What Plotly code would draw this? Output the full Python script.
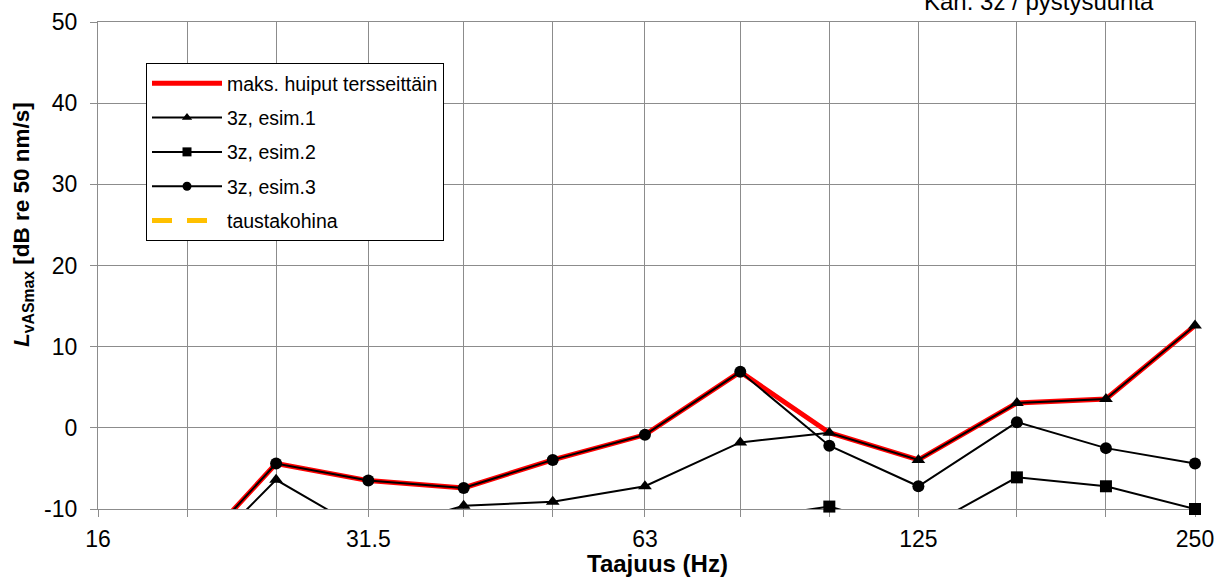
import numpy as np
import plotly.graph_objects as go

# third-octave band centre frequencies (Hz)
freqs = [16, 20, 25, 31.5, 40, 50, 63, 80, 100, 125, 160, 200, 250]
tick_labels = ["16", "", "", "31.5", "", "", "63", "", "", "125", "", "", "250"]
y_ticks = [-10, 0, 10, 20, 30, 40, 50]
y_tick_labels = ["-10", "0", "10", "20", "30", "40", "50"]

# series values (dB re 50 nm/s)
maks = [-20.0, -16.3, -4.4, -6.5, -7.4, -3.95, -0.86, 6.9, -0.6, -3.95, 3.05, 3.55, 12.6]
esim1 = [-21.0, -17.5, -6.4, -13.0, -9.6, -9.1, -7.2, -1.8, -0.6, -3.95, 3.05, 3.55, 12.6]
esim2 = [-25.0, -23.0, -21.0, -19.0, -17.0, -15.0, -13.0, -11.3, -9.7, -12.8, -6.1, -7.2, -10.0]
esim3 = [-20.0, -16.3, -4.4, -6.5, -7.4, -3.95, -0.86, 6.9, -2.2, -7.2, 0.7, -2.5, -4.4]
tausta = [-22.0, -24.0, -25.0, -26.0, -27.0, -27.0, -28.0, -28.0, -29.0, -29.0, -30.0, -30.0, -31.0]

names = ["maks. huiput tersseittäin", "3z, esim.1", "3z, esim.2", "3z, esim.3", "taustakohina"]

YMIN, YMAX = -10, 50
FONT = "Liberation Sans, Arial, sans-serif"
GRID = "#8c8c8c"

fig = go.Figure()

series = [
    (names[0], maks, dict(color="#ff0000", width=5), None),
    (names[1], esim1, dict(color="black", width=2), "triangle-up"),
    (names[2], esim2, dict(color="black", width=2), "square"),
    (names[3], esim3, dict(color="black", width=2), "circle"),
    (names[4], tausta, dict(color="#ffc000", width=5, dash="20px,15px"), None),
]

fx = np.array(freqs, dtype=float)
for i, (name, vals, line, sym) in enumerate(series):
    v = np.array(vals, dtype=float)
    # clipped line
    fig.add_trace(go.Scatter(x=fx, y=v, mode="lines", line=line,
                             showlegend=False, hoverinfo="skip"))
    # markers (not clipped, only in-range points)
    if sym is not None:
        m = v >= YMIN
        fig.add_trace(go.Scatter(x=fx[m], y=v[m], mode="markers",
                                 marker=dict(symbol=sym, size=12, color="black"),
                                 cliponaxis=False, showlegend=False))
    # legend entry
    fig.add_trace(go.Scatter(
        x=[None], y=[None], name=name, legendgroup=f"g{i}",
        mode="lines+markers" if sym else "lines", line=line,
        marker=dict(symbol=sym, size=9, color="black") if sym else None,
        showlegend=True))

axis_common = dict(
    showline=True, linecolor=GRID, linewidth=1.3, mirror=True,
    showgrid=True, gridcolor=GRID, gridwidth=1.3,
    ticks="outside", ticklen=7, tickcolor=GRID, tickwidth=1.3,
    tickfont=dict(family=FONT, size=23, color="black"),
    zeroline=False, layer="below traces",
)

fig.update_xaxes(type="log", range=[np.log10(16), np.log10(250)],
                 tickvals=freqs, ticktext=tick_labels, ticklabelstandoff=2,
                 **axis_common)
fig.update_yaxes(range=[YMIN, YMAX], tickvals=y_ticks, ticktext=y_tick_labels,
                 ticklabelstandoff=8, **axis_common)

fig.add_annotation(text="<b><i>L</i><sub>vASmax</sub> [dB re 50 nm/s]</b>",
                   textangle=-90, xref="paper", yref="paper",
                   x=(23 - 98) / 1097, y=(509 - 225) / 487,
                   xanchor="center", yanchor="middle", showarrow=False,
                   font=dict(family=FONT, size=22.5, color="black"))
fig.add_annotation(text="<b>Taajuus (Hz)</b>", xref="paper", yref="paper",
                   x=(657 - 98) / 1097, y=(509 - 563) / 487,
                   xanchor="center", yanchor="middle", showarrow=False,
                   font=dict(family=FONT, size=24, color="black"))
fig.add_annotation(text="Kan. 3z / pystysuunta", xref="paper", yref="paper",
                   x=(1156 - 98) / 1097, y=(509 - 1) / 487,
                   xanchor="right", yanchor="middle", showarrow=False,
                   font=dict(family=FONT, size=24, color="black"))

fig.update_layout(
    width=1226, height=583,
    margin=dict(l=98, r=31, t=22, b=74, autoexpand=False),
    paper_bgcolor="white", plot_bgcolor="white",
    font=dict(family=FONT, color="black"),
    legend=dict(x=(146 - 98) / 1097, y=(509 - 63) / 487, xanchor="left", yanchor="top",
                bgcolor="white", bordercolor="black", borderwidth=1,
                font=dict(family=FONT, size=19.5, color="black"),
                itemwidth=70, traceorder="grouped", tracegroupgap=6),
    showlegend=True,
)

fig.write_html("out.html", config={"displayModeBar": False},
               post_script="document.body.style.margin='0px';document.body.style.overflow='hidden';")
